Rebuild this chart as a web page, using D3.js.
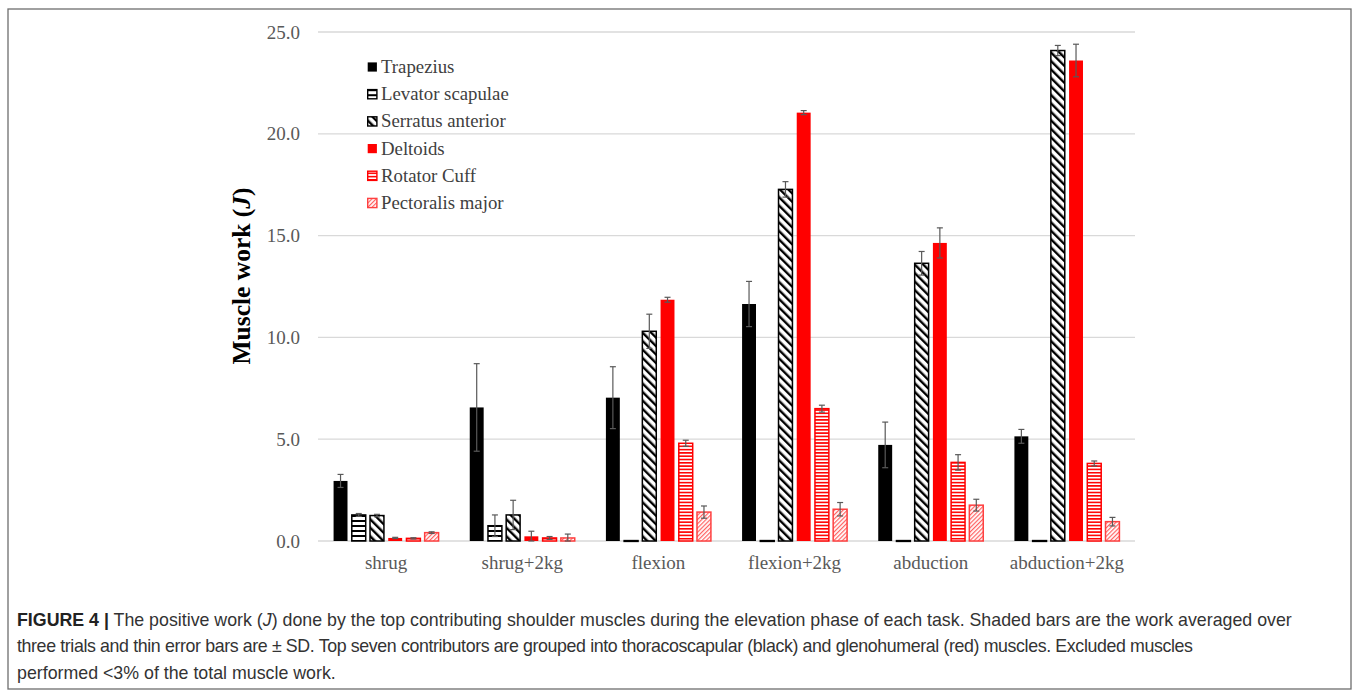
<!DOCTYPE html>
<html>
<head>
<meta charset="utf-8">
<script src="https://cdn.jsdelivr.net/npm/d3@7"></script>
<style>
  body { margin: 0; background: #fff; }
  svg { display: block; }
</style>
</head>
<body>
<script>
// data
var categories = ["shrug", "shrug+2kg", "flexion", "flexion+2kg", "abduction", "abduction+2kg"];
var muscles = ["Trapezius", "Levator scapulae", "Serratus anterior", "Deltoids", "Rotator Cuff", "Pectoralis major"];

var trapezius  = [2.95, 6.56, 7.04, 11.64, 4.72, 5.14];
var levator    = [1.28, 0.75, 0.02, 0.02, 0.02, 0.02];
var serratus   = [1.25, 1.28, 10.3, 17.27, 13.64, 24.09];
var deltoids   = [0.15, 0.23, 11.85, 21.04, 14.64, 23.6];
var rotator    = [0.13, 0.15, 4.8, 6.5, 3.86, 3.81];
var pectoralis = [0.41, 0.15, 1.42, 1.56, 1.76, 0.95];

var trapeziusSD  = [0.32, 2.15, 1.52, 1.11, 1.12, 0.34];
var levatorSD    = [0.07, 0.53, 0, 0, 0, 0];
var serratusSD   = [0.06, 0.72, 0.84, 0.38, 0.58, 0.25];
var deltoidsSD   = [0.03, 0.25, 0.12, 0.1, 0.74, 0.8];
var rotatorSD    = [0.03, 0.07, 0.15, 0.17, 0.38, 0.12];
var pectoralisSD = [0.04, 0.19, 0.3, 0.33, 0.29, 0.21];

var yTicks = [0, 5, 10, 15, 20, 25];

var series = [trapezius, levator, serratus, deltoids, rotator, pectoralis];
var seriesSD = [trapeziusSD, levatorSD, serratusSD, deltoidsSD, rotatorSD, pectoralisSD];
var fills = ["#000", "url(#levHatch)", "url(#serHatch)", "#ff0000", "url(#rotHatch)", "url(#pecHatch)"];
var strokes = ["#000", "#000", "#000", "#ff0000", "#ff0000", "#ff4040"];

var W = 1358, H = 690;
var svg = d3.select("body").append("svg")
  .attr("width", W)
  .attr("height", H);

// patterns
var defs = svg.append("defs");

var lev = defs.append("pattern").attr("id", "levHatch")
  .attr("patternUnits", "userSpaceOnUse").attr("width", 8).attr("height", 5);
lev.append("rect").attr("width", 8).attr("height", 5).attr("fill", "#fff");
lev.append("rect").attr("y", 0).attr("width", 8).attr("height", 2).attr("fill", "#000");

var ser = defs.append("pattern").attr("id", "serHatch")
  .attr("patternUnits", "userSpaceOnUse").attr("width", 6).attr("height", 6)
  .attr("patternTransform", "rotate(-45)");
ser.append("rect").attr("width", 6).attr("height", 6).attr("fill", "#fff");
ser.append("rect").attr("x", 0).attr("width", 2.4).attr("height", 6).attr("fill", "#000");

var rot = defs.append("pattern").attr("id", "rotHatch")
  .attr("patternUnits", "userSpaceOnUse").attr("width", 8).attr("height", 3.3);
rot.append("rect").attr("width", 8).attr("height", 3.3).attr("fill", "#fff");
rot.append("rect").attr("width", 8).attr("height", 1.6).attr("fill", "#ff0000");

var pec = defs.append("pattern").attr("id", "pecHatch")
  .attr("patternUnits", "userSpaceOnUse").attr("width", 3).attr("height", 3)
  .attr("patternTransform", "rotate(45)");
pec.append("rect").attr("width", 3).attr("height", 3).attr("fill", "#fff");
pec.append("rect").attr("width", 1.2).attr("height", 3).attr("fill", "#ff6060");

// frame
svg.append("rect")
  .attr("x", 8).attr("y", 9)
  .attr("width", 1343).attr("height", 680)
  .attr("fill", "none")
  .attr("stroke", "#6e6e6e")
  .attr("stroke-width", 1.3);

// plot area
var plotLeft = 318, plotRight = 1135, plotTop = 32, plotBottom = 541;

var x0 = d3.scaleBand()
  .domain(categories)
  .range([plotLeft, plotRight])
  .paddingInner(0.22)
  .paddingOuter(0.11);

var x1 = d3.scaleBand()
  .domain(d3.range(muscles.length))
  .range([0, x0.bandwidth()])
  .paddingInner(0.17);

var y = d3.scaleLinear()
  .domain([0, 25])
  .range([plotBottom, plotTop]);

// gridlines
svg.append("g").selectAll("line")
  .data(yTicks)
  .enter().append("line")
  .attr("x1", plotLeft).attr("x2", plotRight)
  .attr("y1", function(d){ return y(d); })
  .attr("y2", function(d){ return y(d); })
  .attr("stroke", "#d9d9d9")
  .attr("stroke-width", 1.3);

// y axis labels
var yAxis = d3.axisLeft(y)
  .tickValues(yTicks)
  .tickSize(0)
  .tickPadding(18)
  .tickFormat(d3.format(".1f"));

var ya = svg.append("g")
  .attr("transform", "translate(" + plotLeft + ",0)")
  .call(yAxis);
ya.select(".domain").remove();
ya.selectAll("text")
  .attr("font-family", "Liberation Serif, Times New Roman, serif")
  .attr("font-size", 19)
  .attr("fill", "#595959");

// x axis labels
var xAxis = d3.axisBottom(x0).tickSize(0).tickPadding(15);
var xa = svg.append("g")
  .attr("transform", "translate(0," + plotBottom + ")")
  .call(xAxis);
xa.select(".domain").remove();
xa.selectAll("text")
  .attr("font-family", "Liberation Serif, Times New Roman, serif")
  .attr("font-size", 19)
  .attr("fill", "#595959");

// bars
var groups = svg.append("g").selectAll("g")
  .data(categories)
  .enter().append("g")
  .attr("transform", function(d){ return "translate(" + x0(d) + ",0)"; });

groups.each(function(cat, ci){
  var g = d3.select(this);
  muscles.forEach(function(m, mi){
    var v = series[mi][ci];
    var bx = x1(mi), bw = x1.bandwidth();
    var isSolid = (mi === 0 || mi === 3);
    g.append("rect")
      .attr("x", bx + 0.6)
      .attr("y", y(v))
      .attr("width", bw - 1.2)
      .attr("height", Math.max(plotBottom - y(v), 0.8))
      .attr("fill", fills[mi])
      .attr("stroke", strokes[mi])
      .attr("stroke-width", isSolid ? 0 : 1.5);
  });

  // error bars
  muscles.forEach(function(m, mi){
    var v = series[mi][ci];
    var sd = seriesSD[mi][ci];
    if(sd <= 0) return;
    var cx = x1(mi) + x1.bandwidth() / 2;
    var eb = g.append("g")
      .attr("stroke", "#595959")
      .attr("stroke-width", 1.2);
    eb.append("line")
      .attr("x1", cx).attr("x2", cx)
      .attr("y1", y(v + sd)).attr("y2", y(Math.max(v - sd, 0)));
    eb.append("line")
      .attr("x1", cx - 3).attr("x2", cx + 3)
      .attr("y1", y(v + sd)).attr("y2", y(v + sd));
    eb.append("line")
      .attr("x1", cx - 3).attr("x2", cx + 3)
      .attr("y1", y(Math.max(v - sd, 0))).attr("y2", y(Math.max(v - sd, 0)));
  });
});

// legend
var legend = svg.append("g")
  .attr("transform", "translate(367,67)");
var lItems = legend.selectAll("g")
  .data(muscles)
  .enter().append("g")
  .attr("transform", function(d, i){ return "translate(0," + (i * 27.2) + ")"; });
lItems.append("rect")
  .attr("x", 0.7).attr("y", -4.6)
  .attr("width", 9.2).attr("height", 9.2)
  .attr("fill", function(d, i){ return fills[i]; })
  .attr("stroke", function(d, i){ return strokes[i]; })
  .attr("stroke-width", function(d, i){ return (i === 0 || i === 3) ? 0 : 1.4; });
lItems.append("text")
  .attr("x", 14)
  .attr("y", 6)
  .attr("font-family", "Liberation Serif, Times New Roman, serif")
  .attr("font-size", 18.8)
  .attr("fill", "#404040")
  .text(function(d){ return d; });

// y title
var yt = svg.append("text")
  .attr("transform", "translate(250,276) rotate(-90)")
  .attr("text-anchor", "middle")
  .attr("font-family", "Liberation Serif, Times New Roman, serif")
  .attr("font-size", 25.5)
  .attr("font-weight", "bold")
  .attr("fill", "#000");
yt.append("tspan").text("Muscle work (");
yt.append("tspan").attr("font-style", "italic").text("J");
yt.append("tspan").text(")");

// caption
var capFont = "Liberation Sans, Arial, Helvetica, sans-serif";
var cap = svg.append("g")
  .attr("font-family", capFont)
  .attr("font-size", 17.8)
  .attr("fill", "#333");

var l1 = cap.append("text").attr("x", 17).attr("y", 626);
l1.append("tspan").attr("font-weight", "bold").attr("fill", "#222").text("FIGURE 4 |");
l1.append("tspan").text(" The positive work (");
l1.append("tspan").attr("font-style", "italic").text("J");
l1.append("tspan").text(") done by the top contributing shoulder muscles during the elevation phase of each task. Shaded bars are the work averaged over");

cap.append("text").attr("x", 17).attr("y", 652)
  .attr("textLength", 1176)
  .attr("lengthAdjust", "spacing")
  .text("three trials and thin error bars are \u00b1 SD. Top seven contributors are grouped into thoracoscapular (black) and glenohumeral (red) muscles. Excluded muscles");

cap.append("text").attr("x", 17).attr("y", 679)
  .text("performed <3% of the total muscle work.");
</script>
</body>
</html>
